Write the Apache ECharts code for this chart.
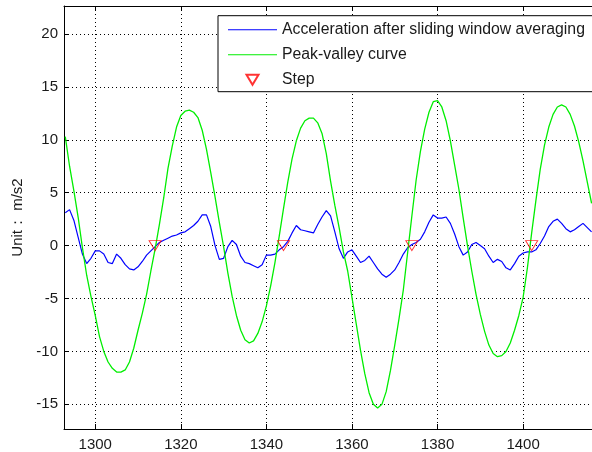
<!DOCTYPE html>
<html>
<head>
<meta charset="utf-8">
<script src="https://cdn.jsdelivr.net/npm/echarts@6/dist/echarts.min.js"></script>
<style>
html,body{margin:0;padding:0;background:#fff;}
#chart{width:592px;height:452px;}
</style>
</head>
<body>
<div id="chart"></div>
<script>
// ---- data ----
const sampleStart = 1293;
const accelAvg = [
  3.1, 3.4, 2.4, 0.8, -0.8, -1.7, -1.2, -0.5, -0.5, -0.8,
  -1.6, -1.7, -0.8, -1.2, -1.8, -2.2, -2.3, -2.0, -1.5, -0.9,
  -0.5, -0.1, 0.3, 0.5, 0.7, 0.9, 1.0, 1.2, 1.3, 1.6,
  1.9, 2.3, 2.9, 2.9, 1.8, 0.0, -1.3, -1.2, -0.1, 0.5,
  0.1, -1.0, -1.6, -1.7, -1.9, -2.1, -1.8, -0.9, -0.9, -0.8,
  -0.4, -0.1, 0.4, 1.2, 1.9, 1.5, 1.4, 1.3, 1.2, 2.0,
  2.7, 3.3, 2.8, 1.3, -0.3, -1.2, -0.6, -0.4, -1.0, -1.6,
  -1.4, -1.0, -1.6, -2.2, -2.7, -3.0, -2.7, -2.3, -1.6, -0.8,
  -0.2, 0.1, 0.3, 0.6, 1.3, 2.2, 2.9, 2.6, 2.6, 2.7,
  2.1, 1.1, -0.1, -0.9, -0.6, 0.1, 0.3, 0.0, -0.3, -1.0,
  -1.6, -1.3, -1.5, -2.1, -2.3, -1.7, -1.0, -0.7, -0.6, -0.6,
  -0.4, 0.2, 0.9, 1.8, 2.3, 2.5, 2.1, 1.6, 1.3, 1.5,
  1.8, 2.1, 1.7, 1.3
];
const peakValley = [
  10.3, 7.5, 5.2, 2.7, -0.2, -2.8, -4.8, -6.6, -8.6, -10.0,
  -11.0, -11.6, -11.95, -11.95, -11.75, -11.0, -9.7, -8.0, -6.4, -4.6,
  -2.4, -0.3, 2.0, 4.5, 7.3, 9.4, 11.2, 12.3, 12.7, 12.8,
  12.6, 12.1, 10.9, 9.1, 6.9, 4.6, 2.2, -0.1, -2.6, -4.8,
  -6.6, -8.0, -8.9, -9.2, -9.0, -8.3, -7.2, -5.7, -3.8, -1.6,
  0.9, 3.5, 6.0, 8.2, 9.9, 11.1, 11.8, 12.05, 12.05, 11.6,
  10.6, 8.7, 6.1, 3.8, 1.7, -0.6, -2.4, -4.9, -7.4, -9.9,
  -12.1, -13.9, -15.0, -15.35, -15.0, -13.8, -11.8, -9.4, -6.9, -4.2,
  -0.7, 2.8, 6.2, 8.9, 11.0, 12.6, 13.6, 13.7, 13.1, 11.8,
  9.9, 7.6, 5.3, 2.6, 0.0, -2.4, -4.6, -6.5, -8.1, -9.4,
  -10.2, -10.5, -10.4, -10.0, -9.2, -8.0, -6.6, -4.9, -2.1, 1.2,
  4.3, 7.2, 9.5, 11.2, 12.4, 13.1, 13.3, 13.1, 12.4, 11.3,
  9.8, 8.0, 6.0, 4.0
];
const stepX = [1314, 1344, 1374, 1402];
const stepY = [0, 0, 0, 0];
const seriesNames = ['Acceleration after sliding window averaging', 'Peak-valley curve', 'Step'];
const yAxisTitle = 'Unit： m/s2';

// ---- build ----
const toPairs = (arr) => arr.map((v, i) => [sampleStart + i, v]);
const stepPairs = stepX.map((x, i) => [x, stepY[i]]);

const FONT = '"Liberation Sans", Arial, sans-serif';
const TXT = '#1a1a1a';
const xMin = 1292.7, xMax = 1416.1;
const yMin = -17.33, yMax = 22.64;

const gridLine = { show: true, showMinLine: false, showMaxLine: false, lineStyle: { type: [1, 3], color: '#000', width: 1 } };
const lineIcon = 'path://M0,0 L49,0 L49,1 L0,1 Z';
const stepIcon = 'path://M-2,-2 M0,0 L12,0 L6,10 Z M14,12';

const chart = echarts.init(document.getElementById('chart'), null, { renderer: 'canvas' });
chart.setOption({
  animation: false,
  backgroundColor: '#fff',
  grid: { left: 64, top: 6, width: 530, height: 423.3, containLabel: false },
  xAxis: [{
    type: 'value', min: xMin, max: xMax, minInterval: 20, maxInterval: 20,
    axisLine: { show: true, onZero: false, lineStyle: { color: '#000', width: 1 } },
    axisTick: { show: true, inside: true, length: 5, lineStyle: { color: '#000' } },
    axisLabel: { showMinLabel: false, showMaxLabel: false, color: TXT, fontSize: 15, fontFamily: FONT, margin: 8,
      formatter: (v) => String(Math.round(v)) },
    splitLine: gridLine
  }, {
    type: 'value', position: 'top', min: xMin, max: xMax, minInterval: 20, maxInterval: 20,
    axisLine: { show: true, onZero: false, lineStyle: { color: '#000', width: 1 } },
    axisTick: { show: true, inside: true, length: 5, lineStyle: { color: '#000' } },
    axisLabel: { show: false },
    splitLine: { show: false }
  }],
  yAxis: [{
    type: 'value', min: yMin, max: yMax, minInterval: 5, maxInterval: 5,
    name: yAxisTitle, nameLocation: 'middle', nameGap: 39,
    nameTextStyle: { color: TXT, fontSize: 15, fontFamily: FONT },
    axisLine: { show: true, onZero: false, lineStyle: { color: '#000', width: 1 } },
    axisTick: { show: true, inside: true, length: 5, lineStyle: { color: '#000' } },
    axisLabel: { showMinLabel: false, showMaxLabel: false, color: TXT, fontSize: 15, fontFamily: FONT, margin: 6,
      formatter: (v) => String(Math.round(v)) },
    splitLine: gridLine
  }],
  legend: {
    orient: 'vertical', left: 218, top: 15.7,
    padding: [6, 10, 4, 10], itemGap: 9, itemWidth: 49, itemHeight: 14,
    borderColor: '#000', borderWidth: 1, backgroundColor: '#fff',
    textStyle: { color: TXT, fontSize: 15.8, fontFamily: FONT },
    data: [
      { name: seriesNames[0], icon: lineIcon },
      { name: seriesNames[1], icon: lineIcon },
      { name: seriesNames[2], icon: stepIcon }
    ]
  },
  series: [{
    name: seriesNames[0], type: 'line', data: toPairs(accelAvg),
    symbol: 'none', lineStyle: { color: '#0000ff', width: 1.2 }, itemStyle: { color: '#0000ff' }, z: 2
  }, {
    name: seriesNames[1], type: 'line', data: toPairs(peakValley),
    symbol: 'none', lineStyle: { color: '#00ee00', width: 1.3 }, itemStyle: { color: '#00ee00' }, z: 3
  }, {
    name: seriesNames[2], type: 'scatter', data: stepPairs,
    symbol: 'path://M0,0 L12,0 L6,10 Z', symbolSize: [12, 10],
    itemStyle: { color: 'rgba(255,255,255,0)', borderColor: '#ff0000', borderWidth: 1 }, z: 4
  }]
});
</script>
</body>
</html>
